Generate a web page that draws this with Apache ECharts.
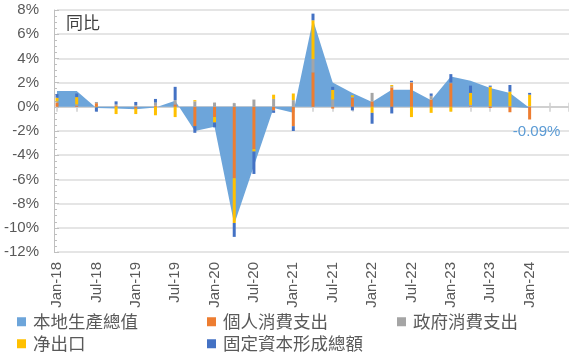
<!DOCTYPE html>
<html>
<head>
<meta charset="utf-8">
<script src="https://cdn.jsdelivr.net/npm/echarts@6/dist/echarts.min.js"></script>
<style>html,body{margin:0;padding:0;background:#fff;}#c{width:569px;height:355px;}</style>
</head>
<body>
<div id="c"></div>
<script>
var categories = ['Jan-18','Apr-18','Jul-18','Oct-18','Jan-19','Apr-19','Jul-19','Oct-19',
  'Jan-20','Apr-20','Jul-20','Oct-20','Jan-21','Apr-21','Jul-21','Oct-21',
  'Jan-22','Apr-22','Jul-22','Oct-22','Jan-23','Apr-23','Jul-23','Oct-23','Jan-24','Apr-24','Jul-24'];
var tickLabels = ['Jan-18','Jul-18','Jan-19','Jul-19','Jan-20','Jul-20','Jan-21','Jul-21','Jan-22','Jul-22','Jan-23','Jul-23','Jan-24'];
var gdp      = [1.3, 1.3, -0.1, -0.15, -0.2, -0.05, 0.5, -2.0, -1.65, -9.7, -4.9, -0.1, -0.5, 7.2, 2.0, 1.15, 0.4, 1.4, 1.4, 0.55, 2.5, 2.15, 1.55, 1.15, -0.09, null, null];
var privCons = [0.35, 0.1, 0.3, 0.1, -0.15, 0.1, 0.2, -1.6, -0.85, -5.9, -3.5, -0.3, -1.6, 2.85, -0.15, 0.75, 0.45, 1.6, 2.0, 0.6, 1.95, 0.05, -0.1, -0.45, -1.05, null, null];
var govCons  = [0.1, 0.1, 0.1, 0.1, 0.15, 0.25, 0.35, 0.45, 0.35, 0.3, 0.6, 0.65, 0.55, 1.1, 0.6, 0.05, 0.7, 0.1, 0.05, 0.3, 0.05, 0.1, 0.05, 0.05, 0.05, null, null];
var netExp   = [0.3, 0.6, -0.05, -0.6, -0.45, -0.7, -0.85, 0.1, -0.45, -3.7, -0.2, 0.35, 0.55, 3.2, 0.8, 0.15, -0.5, 0.1, -0.85, -0.5, -0.4, 1.0, 1.6, 1.2, 0.95, null, null];
var gfcf     = [0.3, 0.3, -0.35, 0.25, 0.25, 0.3, 1.1, -0.55, -0.4, -1.15, -1.85, -0.2, -0.4, 0.55, 0.25, -0.3, -0.9, -0.55, 0.1, 0.2, 0.7, 0.6, 0.1, 0.55, 0.15, null, null];
var names = ['本地生產總值','個人消費支出','政府消費支出','净出口','固定資本形成總額'];

var lastIdx = 24;
var gdpData = gdp.map(function(v, i){
  if (i === lastIdx) {
    return {value: v, label: {show: true, position: 'bottom', offset: [7, 11],
      formatter: function(p){ return p.value + '%'; },
      fontSize: 15, color: '#5B9BD5', fontFamily: 'Liberation Sans, Arial, sans-serif'}};
  }
  return v;
});

var cjk = "'Noto Sans CJK TC', 'Noto Sans CJK SC', sans-serif";
var lat = "'Liberation Sans', Arial, sans-serif";

function legendAt(name, left, top){
  return {data:[name], left:left, top:top, padding:0, icon:'rect', itemWidth:9, itemHeight:9, itemGap:0,
    textStyle:{fontSize:17.5, color:'#595959', fontFamily:cjk, padding:[0,0,0,2]}};
}

function barSeries(name, data, color){
  return {name:name, type:'bar', stack:'comp', data:data, barWidth:3, z:5, itemStyle:{color:color}, xAxisIndex:0, yAxisIndex:0};
}

var chart = echarts.init(document.getElementById('c'), null, {renderer:'canvas'});
chart.setOption({
  animation:false,
  backgroundColor:'#fff',
  title:{text:'同比', left:61, top:9, textStyle:{fontSize:17, fontWeight:'normal', color:'#404040', fontFamily:cjk}},
  legend:[
    legendAt(names[0], 17, 313),
    legendAt(names[1], 207, 313),
    legendAt(names[2], 397, 313),
    legendAt(names[3], 17, 335),
    legendAt(names[4], 207, 335)
  ],
  grid:{left:57, right:0, top:10, bottom:103, containLabel:false},
  xAxis:[
    {type:'category', data:categories, boundaryGap:false, position:'bottom',
     axisLine:{show:false, onZero:false}, axisTick:{show:false}, splitLine:{show:false},
     axisLabel:{rotate:90, fontSize:15, color:'#595959', fontFamily:lat, margin:10,
       interval:function(i, v){ return tickLabels.indexOf(v) >= 0; }}},
    {type:'category', data:categories, boundaryGap:false, position:'bottom',
     axisLine:{show:true, onZero:true, onZeroAxisIndex:0, lineStyle:{color:'#C9C9C9', width:1.5}},
     axisTick:{show:true, interval:0, length:5, lineStyle:{color:'#CFCFCF', width:1.5}},
     axisLabel:{show:false}, splitLine:{show:false}},
    {type:'category', data:categories, boundaryGap:false, position:'bottom',
     axisLine:{show:false, onZero:true, onZeroAxisIndex:0},
     axisTick:{show:true, inside:true, interval:0, length:4, lineStyle:{color:'#CFCFCF', width:1.5}},
     axisLabel:{show:false}, splitLine:{show:false}}
  ],
  yAxis:{type:'value', min:-12, max:8, interval:2, offset:3,
    axisLine:{show:true, lineStyle:{color:'#BFBFBF', width:1}},
    axisTick:{show:true, inside:true, length:5, lineStyle:{color:'#BFBFBF'}},
    minorTick:{show:true, splitNumber:4, length:3, lineStyle:{color:'#BFBFBF'}},
    splitLine:{show:true, lineStyle:{color:'#DCDCDC', width:1.5}},
    axisLabel:{formatter:'{value}%', fontSize:15, color:'#595959', fontFamily:lat, margin:15}},
  series:[
    {name:names[0], type:'line', data:gdpData, xAxisIndex:0, yAxisIndex:0, z:1,
     showSymbol:true, symbol:'circle', symbolSize:0, lineStyle:{width:0},
     itemStyle:{color:'#6DA5DA'}, color:'#6DA5DA',
     areaStyle:{color:'#6DA5DA', opacity:1}},
    barSeries(names[1], privCons, '#ED7D31'),
    barSeries(names[2], govCons, '#A5A5A5'),
    barSeries(names[3], netExp, '#FFC000'),
    barSeries(names[4], gfcf, '#4472C4')
  ]
});
</script>
</body>
</html>
